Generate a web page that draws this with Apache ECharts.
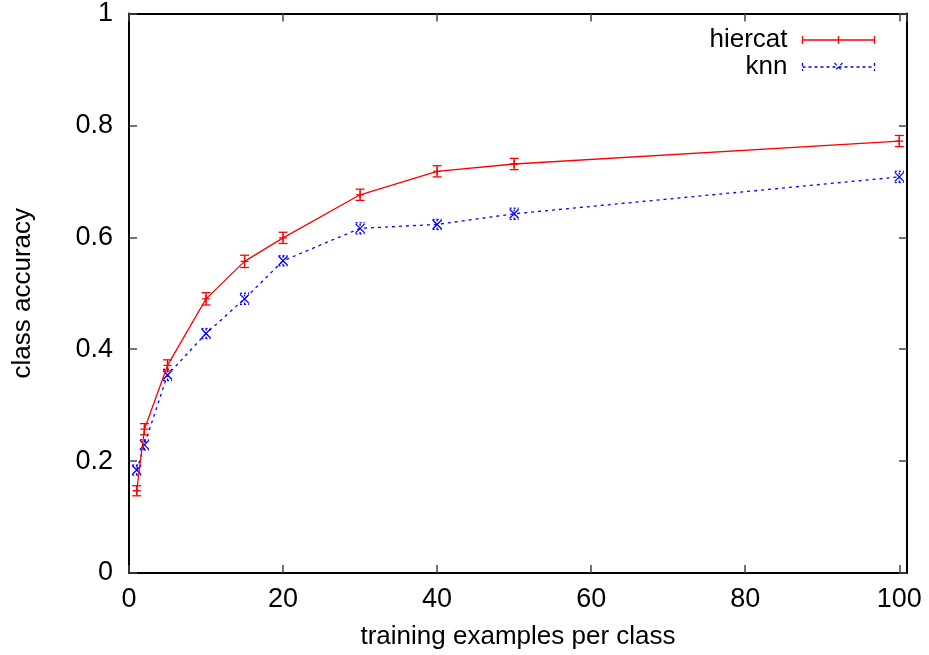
<!DOCTYPE html>
<html><head><meta charset="utf-8">
<script src="https://cdn.jsdelivr.net/npm/echarts@6/dist/echarts.min.js"></script>
<style>html,body{margin:0;padding:0;background:#fff}#c{width:929px;height:655px}</style>
</head><body><div id="c"></div>
<script>
const xValues = [1, 2, 5, 10, 15, 20, 30, 40, 50, 100];
const hiercat = [0.147, 0.257, 0.371, 0.490, 0.557, 0.599, 0.676, 0.718, 0.731, 0.772];
const hiercatErr = [0.009, 0.010, 0.010, 0.011, 0.011, 0.010, 0.010, 0.010, 0.010, 0.010];
const knn = [0.184, 0.229, 0.354, 0.428, 0.490, 0.558, 0.616, 0.623, 0.642, 0.708];
const knnErr = [0.009, 0.009, 0.010, 0.009, 0.010, 0.009, 0.010, 0.009, 0.010, 0.010];
const xTicks = [0, 20, 40, 60, 80, 100];
const yTicks = [0, 0.2, 0.4, 0.6, 0.8, 1];

const FONT = 'Liberation Sans';
const RED = '#ff0000', BLUE = '#0000ff';

function pairs(v) { return xValues.map((x, i) => [x, v[i]]); }
function errData(v, e) { return xValues.map((x, i) => [x, v[i] - e[i], v[i] + e[i]]); }

function errRender(color, dash) {
  return function (params, api) {
    const x = api.value(0);
    const lo = api.coord([x, api.value(1)]);
    const hi = api.coord([x, api.value(2)]);
    const w = 4.5;
    const style = { stroke: color, lineWidth: 1.3, lineDash: dash };
    return {
      type: 'group',
      children: [
        { type: 'line', shape: { x1: lo[0], y1: lo[1], x2: hi[0], y2: hi[1] }, style },
        { type: 'line', shape: { x1: lo[0] - w, y1: lo[1], x2: lo[0] + w, y2: lo[1] }, style },
        { type: 'line', shape: { x1: hi[0] - w, y1: hi[1], x2: hi[0] + w, y2: hi[1] }, style }
      ]
    };
  };
}

const plusPath = 'path://M0,5L10,5M5,0L5,10';
const crossPath = 'path://M0,0L10,10M10,0L0,10';

function axisLine() { return { show: true, onZero: false, lineStyle: { color: '#000', width: 2 } }; }
function tick() { return { show: true, inside: true, length: 8, lineStyle: { color: '#444', width: 1.5 } }; }

const chart = echarts.init(document.getElementById('c'));
chart.setOption({
  animation: false,
  backgroundColor: '#fff',
  textStyle: { fontFamily: FONT },
  grid: { left: 129, right: 22, top: 13, bottom: 82 },
  legend: {
    orient: 'vertical',
    right: 47,
    top: 22,
    align: 'right',
    itemWidth: 72,
    itemHeight: 9,
    itemGap: 1,
    textStyle: { fontFamily: FONT, fontSize: 26, lineHeight: 26, color: '#000', padding: [0, 10, 0, 0] },
    data: [
      { name: 'hiercat', icon: 'path://M0,0L0,8M0,4L72,4M72,0L72,8M36,0L36,8',
        itemStyle: { color: 'none', borderColor: RED, borderWidth: 1.3 } },
      { name: 'knn', icon: 'path://M0,0L0,8M0,4L72,4M72,0L72,8M32,0L40,8M40,0L32,8',
        itemStyle: { color: 'none', borderColor: BLUE, borderWidth: 1.3, borderType: [3, 3] } }
    ]
  },
  xAxis: [
    {
      type: 'value', min: 0, max: 101, interval: 20, position: 'bottom',
      name: 'training examples per class', nameLocation: 'middle', nameGap: 51,
      nameTextStyle: { fontFamily: FONT, fontSize: 26, color: '#000' },
      axisLine: axisLine(),
      axisTick: tick(),
      splitLine: { show: false },
      axisLabel: { fontFamily: FONT, fontSize: 27, color: '#000', margin: 13, showMaxLabel: false,
        formatter: v => (xTicks.indexOf(v) >= 0 ? String(v) : '') }
    },
    {
      type: 'value', min: 0, max: 101, interval: 20, position: 'top',
      axisLine: axisLine(),
      axisTick: tick(), splitLine: { show: false }, axisLabel: { show: false }
    }
  ],
  yAxis: [
    {
      type: 'value', min: 0, max: 1, interval: 0.2, position: 'left',
      name: 'class accuracy', nameLocation: 'middle', nameGap: 93, nameRotate: 90,
      nameTextStyle: { fontFamily: FONT, fontSize: 26, color: '#000' },
      axisLine: axisLine(),
      axisTick: tick(),
      splitLine: { show: false },
      axisLabel: { fontFamily: FONT, fontSize: 27, color: '#000', margin: 16,
        formatter: v => { const t = yTicks.find(k => Math.abs(k - v) < 1e-9); return t === undefined ? '' : String(t); } }
    },
    {
      type: 'value', min: 0, max: 1, interval: 0.2, position: 'right',
      axisLine: axisLine(),
      axisTick: tick(), splitLine: { show: false }, axisLabel: { show: false }
    }
  ],
  series: [
    {
      name: 'hiercat', type: 'line', data: pairs(hiercat),
      symbol: plusPath, symbolSize: 8, showSymbol: true,
      lineStyle: { color: RED, width: 1.3 },
      itemStyle: { color: RED, borderColor: RED, borderWidth: 1.3 },
      z: 3
    },
    {
      name: 'hiercat', type: 'custom', data: errData(hiercat, hiercatErr),
      renderItem: errRender(RED, null), z: 3
    },
    {
      name: 'knn', type: 'line', data: pairs(knn),
      symbol: crossPath, symbolSize: 9, showSymbol: true,
      lineStyle: { color: BLUE, width: 1.3, type: [3, 4] },
      itemStyle: { color: BLUE, borderColor: BLUE, borderWidth: 1.3 },
      z: 2
    },
    {
      name: 'knn', type: 'custom', data: errData(knn, knnErr),
      renderItem: errRender(BLUE, [2, 2]), z: 2
    }
  ]
});
</script>
</body></html>
